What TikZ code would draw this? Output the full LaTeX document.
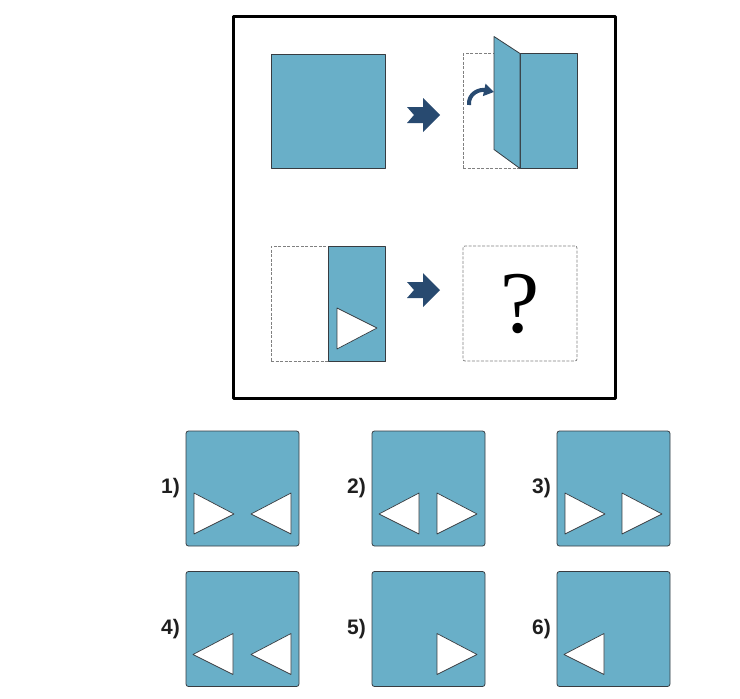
\documentclass[tikz,border=0pt]{standalone}
\usepackage{fontspec}
\setsansfont{Liberation Sans}
\newfontfamily\serifq{Liberation Serif}
\usetikzlibrary{calc,positioning,arrows.meta}
\definecolor{papel}{RGB}{105,175,200}
\definecolor{azul}{RGB}{40,74,112}
\definecolor{borde}{RGB}{55,60,65}
\newcommand{\flecha}[1]{\fill[azul] ($(#1)+(-17,-8)$) -- ++(16,0) -- ++(0,-9) -- ++(17,17) -- ++(-17,17) -- ++(0,-9) -- ++(-16,0) -- ++(7,-8) -- cycle;}
\newcommand{\trider}[2]{\draw[hueco] ($(#1.north west)+(#2,62)$) -- ++(40,21) -- ++(-40,20) -- cycle;}
\newcommand{\triizq}[2]{\draw[hueco] ($(#1.north west)+(#2+40,62)$) -- ++(-40,21) -- ++(40,20) -- cycle;}

\begin{document}
\begin{tikzpicture}[x=1pt,y=-1pt,line join=round]
	\tikzset{hoja/.style={draw=borde, fill=papel, rectangle, inner sep=0, outer sep=0, minimum width=114, minimum height=114, line width=0.8pt},
		marco/.style={draw=gray, dashed, dash pattern=on 3pt off 1.5pt, rectangle, inner sep=0, outer sep=0, minimum width=114, minimum height=115, line width=0.8pt},
		opcion/.style={hoja, rounded corners=2.5pt, minimum width=113, minimum height=115},
		hueco/.style={draw=borde, fill=white, line width=0.7pt},
		etiq/.style={font=\sffamily\bfseries\fontsize{21}{21}\selectfont, text=black!88, inner sep=0},
		curva/.style={draw=azul, line width=4pt, -{Triangle[length=10pt,width=12pt]}}}
	\useasboundingbox (0,0) rectangle (740,699);
	\node[draw, line width=3pt, rectangle, inner sep=0, minimum width=382, minimum height=382] (panel) at (424,207) {};
	% fila de arriba
	\node[hoja] (A) at (328,111) {};
	\node[marco] (B) at (520,111) {};
	\draw[hoja] (B.north) rectangle (B.south east);
	\draw[hoja] (B.north) -- ++(-26,-17) -- ++(0,113) -- (B.south) -- cycle;
	\draw[curva] ($(B.west)+(6,-6)$) .. controls +(-1,-12) and +(-14,-3) .. ($(B.west)+(31,-19)$);
	\coordinate (f1) at (424,115);
	\flecha{f1}
	% fila de abajo
	\node[marco] (C) at (328,303.5) {};
	\draw[hoja] (C.north) rectangle (C.south east);
	\draw[hueco] ($(C.north)+(9,62)$) -- ++(40,20) -- ++(-40,21) -- cycle;
	\node[marco, rounded corners=2pt] (D) at (520,303.5) {};
	\node[font=\serifq\fontsize{88}{88}\selectfont, inner sep=0] (q) at (D) {?};
	\coordinate (f2) at (424,290);
	\flecha{f2}
	% opciones
	\node[opcion] (op1) at (242.5,488.5) {};
	\node[opcion] (op2) at (428.5,488.5) {};
	\node[opcion] (op3) at (613.5,488.5) {};
	\node[opcion] (op4) at (242.5,629) {};
	\node[opcion] (op5) at (428.5,629) {};
	\node[opcion] (op6) at (613.5,629) {};
	\node[etiq, left=6pt of op1] (l1) {1)};
	\node[etiq, left=6pt of op2] (l2) {2)};
	\node[etiq, left=6pt of op3] (l3) {3)};
	\node[etiq, left=6pt of op4] (l4) {4)};
	\node[etiq, left=6pt of op5] (l5) {5)};
	\node[etiq, left=6pt of op6] (l6) {6)};
	\trider{op1}{8} \triizq{op1}{65}
	\triizq{op2}{7} \trider{op2}{65}
	\trider{op3}{8} \trider{op3}{65}
	\triizq{op4}{7} \triizq{op4}{65}
	\trider{op5}{65}
	\triizq{op6}{7}
\end{tikzpicture}
\end{document}
